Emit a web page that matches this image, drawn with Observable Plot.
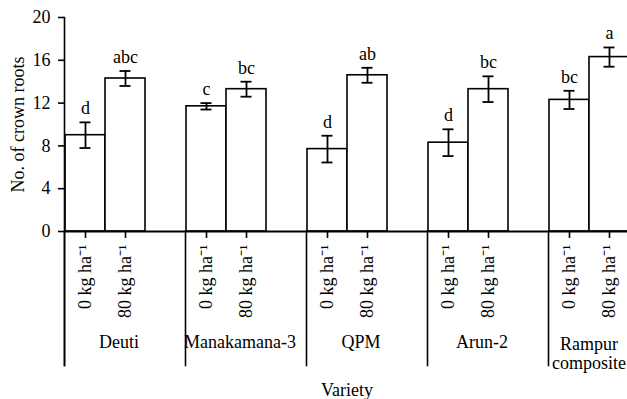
<!DOCTYPE html>
<html>
<head>
<meta charset="utf-8">
<script src="https://cdn.jsdelivr.net/npm/d3@7"></script>
<script src="https://cdn.jsdelivr.net/npm/@observablehq/plot@0.6"></script>
<style>
  html, body { margin: 0; padding: 0; background: white; overflow: hidden; }
</style>
</head>
<body>
<div id="chart"></div>
<script>
// ---- data ----
const varieties = ["Deuti", "Manakamana-3", "QPM", "Arun-2", "Rampur\ncomposite"];
const treatments = ["0 kg ha\u207B\u00B9", "80 kg ha\u207B\u00B9"];
const mean0  = [9.0, 11.7, 7.7, 8.3, 12.3];
const mean80 = [14.3, 13.3, 14.6, 13.3, 16.3];
const err0   = [1.2, 0.3, 1.25, 1.25, 0.85];
const err80  = [0.7, 0.7, 0.7, 1.2, 0.9];
const letters0  = ["d", "c", "d", "d", "bc"];
const letters80 = ["abc", "bc", "ab", "bc", "a"];
const yTicks = [0, 4, 8, 12, 16, 20];

const rows = [];
varieties.forEach((v, i) => {
  rows.push({variety: v, treatment: treatments[0], mean: mean0[i], err: err0[i], letter: letters0[i]});
  rows.push({variety: v, treatment: treatments[1], mean: mean80[i], err: err80[i], letter: letters80[i]});
});
rows.forEach(d => { d.lo = d.mean - d.err; d.hi = d.mean + d.err; });

const innerGroups = varieties.slice(0, 4);
const lastGroup = varieties.slice(4);

const chart = Plot.plot({
  width: 627,
  height: 399,
  marginTop: 17,
  marginBottom: 168,
  marginLeft: 64,
  marginRight: -3,
  style: {fontFamily: "'Liberation Serif', 'Times New Roman', serif", fontSize: "18px", background: "white", color: "black"},
  fx: {domain: varieties, paddingInner: 0.33, paddingOuter: 0},
  x: {domain: treatments, padding: 0},
  y: {domain: [0, 20]},
  marks: [
    Plot.barY(rows, {fx: "variety", x: "treatment", y: "mean", fill: "white", stroke: "black", strokeWidth: 1.6}),
    Plot.ruleX(rows, {fx: "variety", x: "treatment", y1: "lo", y2: "hi", stroke: "black", strokeWidth: 1.8}),
    Plot.tickY(rows, {fx: "variety", x: "treatment", y: "hi", insetLeft: 14.5, insetRight: 14.5, stroke: "black", strokeWidth: 1.8}),
    Plot.tickY(rows, {fx: "variety", x: "treatment", y: "lo", insetLeft: 14.5, insetRight: 14.5, stroke: "black", strokeWidth: 1.8}),
    Plot.text(rows, {fx: "variety", x: "treatment", y: "hi", text: "letter", dy: -8, lineAnchor: "bottom", fontSize: 18}),
    Plot.ruleY([0], {insetRight: -41, stroke: "black", strokeWidth: 2}),
    Plot.frame({anchor: "left", insetTop: 214, insetBottom: -134, stroke: "black", strokeWidth: 1.6}),
    Plot.frame({anchor: "left", fx: varieties[0], insetBottom: -134, stroke: "black", strokeWidth: 1.6}),
    Plot.axisY({ticks: yTicks, tickSize: 6, tickPadding: 8, strokeWidth: 1.6, label: "No. of crown roots", labelArrow: "none", labelAnchor: "center", labelOffset: 53}),
    Plot.axisX({tickRotate: -90, tickSize: 7, tickPadding: 6, strokeWidth: 1.6, label: null}),
    // group (variety) names under each pair of bars
    Plot.text(innerGroups, {fx: d => d, text: d => d, frameAnchor: "bottom", lineAnchor: "top", dy: 104, dx: 14, fontSize: 18}),
    Plot.text(lastGroup, {fx: d => d, text: d => d, frameAnchor: "bottom", lineAnchor: "top", dy: 104, dx: 0, lineHeight: 1.1, fontSize: 18}),
    Plot.axisFx({anchor: "bottom", tickSize: 0, tickFormat: () => "", label: "Variety", labelAnchor: "center", labelOffset: 164})
  ]
});
document.getElementById("chart").appendChild(chart);
</script>
</body>
</html>
